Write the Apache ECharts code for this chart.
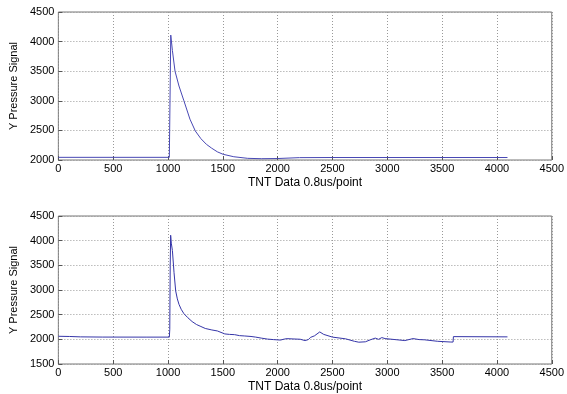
<!DOCTYPE html>
<html>
<head>
<meta charset="utf-8">
<script src="https://cdn.jsdelivr.net/npm/echarts@6/dist/echarts.min.js"></script>
<style>html,body{margin:0;padding:0;background:#fff}#c{width:567px;height:394px}</style>
</head>
<body>
<div id="c"></div>
<script>
var xTicks = [0, 500, 1000, 1500, 2000, 2500, 3000, 3500, 4000, 4500];
var topX = [0, 500, 1012, 1016, 1020, 1025, 1040, 1064, 1100, 1145, 1200, 1249, 1300, 1350, 1398, 1450, 1503, 1600, 1727, 1850, 2000, 2200, 2500, 3000, 3500, 4096];
var topY = [2045, 2045, 2045, 2050, 3300, 4110, 3850, 3500, 3250, 3000, 2690, 2490, 2360, 2265, 2200, 2138, 2096, 2055, 2028, 2022, 2025, 2040, 2042, 2042, 2042, 2042];
var botX = [0, 100, 200, 400, 800, 1012, 1016, 1020, 1024, 1030, 1040, 1055, 1070, 1085, 1100, 1120, 1145, 1180, 1220, 1260, 1300, 1340, 1400, 1450, 1518, 1560, 1607, 1652, 1700, 1757, 1800, 1850, 1907, 1960, 2026, 2060, 2086, 2140, 2205, 2250, 2280, 2300, 2335, 2384, 2420, 2500, 2620, 2700, 2740, 2800, 2845, 2890, 2920, 2950, 2980, 3070, 3160, 3235, 3290, 3340, 3460, 3580, 3600, 3603, 4096];
var botY = [2062, 2058, 2050, 2046, 2045, 2045, 2200, 3500, 4110, 3950, 3800, 3350, 2980, 2820, 2710, 2610, 2520, 2440, 2360, 2300, 2260, 2220, 2190, 2170, 2110, 2100, 2095, 2075, 2068, 2058, 2045, 2025, 2005, 1995, 1985, 2005, 2014, 2008, 2002, 1975, 1995, 2040, 2070, 2150, 2100, 2045, 2010, 1960, 1942, 1950, 1990, 2025, 2000, 2035, 2015, 1995, 1975, 2015, 1995, 1990, 1960, 1945, 1945, 2055, 2050];
var xLabel = 'TNT Data 0.8us/point';
var yLabel = 'Y Pressure Signal';

function pairs(xs, ys) { return xs.map(function (x, i) { return [x, ys[i]]; }); }

var font = 'Liberation Sans, Arial, sans-serif';
function plain(v) { return String(v); }
function xAxis(idx) {
  return {
    type: 'value', gridIndex: idx, min: 0, max: 4500, interval: 500,
    name: xLabel, nameLocation: 'middle', nameGap: 17,
    nameTextStyle: { color: '#000', fontSize: 12, fontFamily: font },
    axisLine: { show: false },
    axisTick: { inside: true, length: 4, lineStyle: { color: '#555' } },
    axisLabel: { color: '#000', fontSize: 11, fontFamily: font, margin: 3, formatter: plain },
    splitLine: { show: true, lineStyle: { color: '#999', type: [1, 2], width: 1 } }
  };
}
function yAxis(idx, min) {
  return {
    type: 'value', gridIndex: idx, min: min, max: 4500, interval: 500,
    name: yLabel, nameLocation: 'middle', nameGap: 37,
    nameTextStyle: { color: '#000', fontSize: 11, fontFamily: font },
    axisLine: { show: false },
    axisTick: { inside: true, length: 4, lineStyle: { color: '#555' } },
    axisLabel: { color: '#000', fontSize: 11, fontFamily: font, margin: 4, formatter: plain },
    splitLine: { show: true, lineStyle: { color: '#999', type: [1, 2], width: 1 } }
  };
}
var chart = echarts.init(document.getElementById('c'), null, { renderer: 'canvas' });
chart.setOption({
  backgroundColor: '#fff',
  animation: false,
  grid: [
    { left: 54, top: 12, width: 502, height: 148, show: true, borderColor: '#777', borderWidth: 1, backgroundColor: '#fff' },
    { left: 54, top: 216, width: 502, height: 149, show: true, borderColor: '#777', borderWidth: 1, backgroundColor: '#fff' }
  ],
  xAxis: [xAxis(0), xAxis(1)],
  yAxis: [yAxis(0, 2000), yAxis(1, 1500)],
  series: [
    { type: 'line', xAxisIndex: 0, yAxisIndex: 0, data: pairs(topX, topY), showSymbol: false, lineStyle: { color: '#4848b4', width: 1 } },
    { type: 'line', xAxisIndex: 1, yAxisIndex: 1, data: pairs(botX, botY), showSymbol: false, lineStyle: { color: '#3535a8', width: 1 } }
  ]
});
</script>
</body>
</html>
